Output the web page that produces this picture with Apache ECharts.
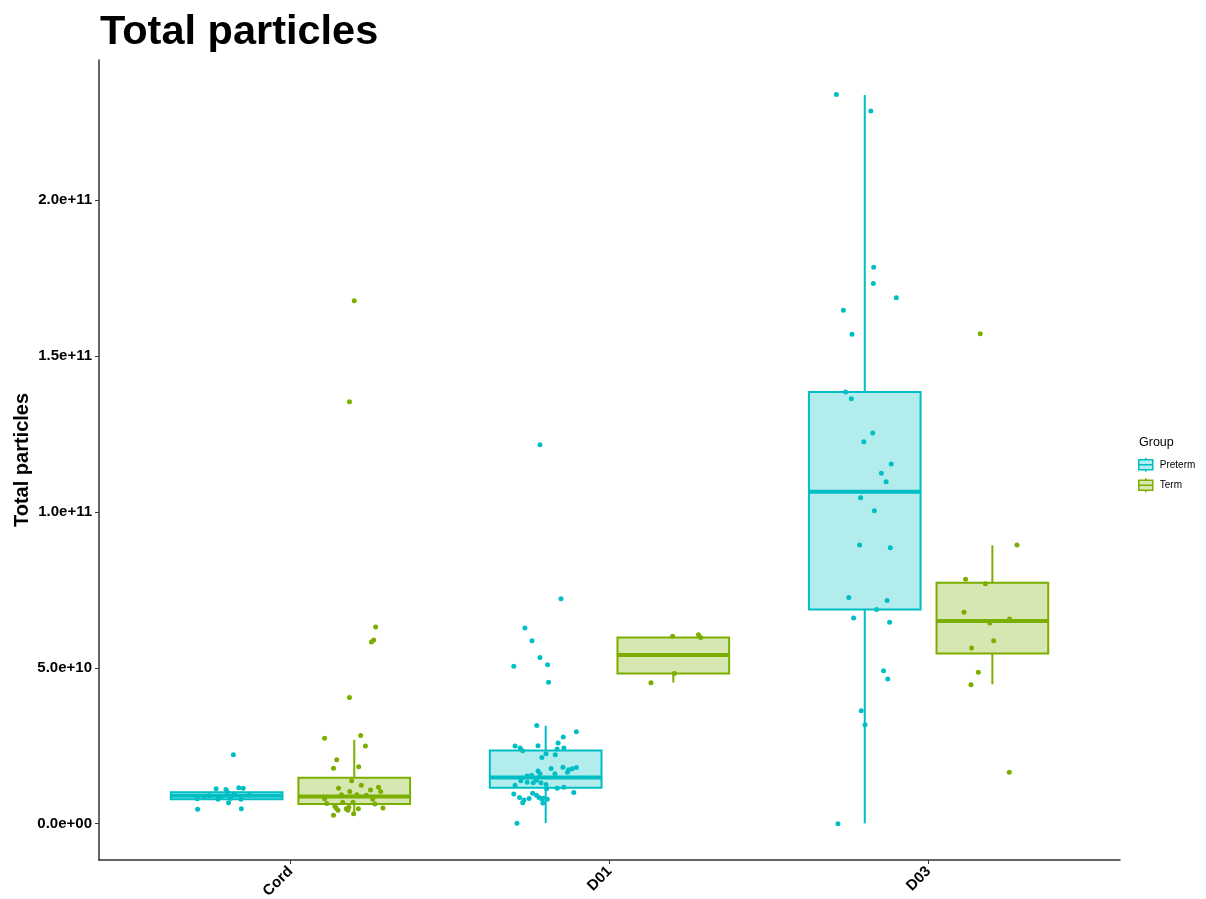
<!DOCTYPE html>
<html>
<head>
<meta charset="utf-8">
<script src="https://cdn.jsdelivr.net/npm/echarts@6/dist/echarts.min.js"></script>
<style>html,body{margin:0;padding:0;background:#fff}#c{width:1206px;height:899px}</style>
</head>
<body>
<div id="c"></div>
<script>
// ---- data (values in units of 1e9 particles) ----
const UNIT = 1e9;
const categories = ['Cord', 'D01', 'D03'];
const groups = ['Preterm', 'Term'];
const yTicks = [0, 5e10, 1e11, 1.5e11, 2e11];

// box stats per category: [min, q1, median, q3, max]
const pretermStats = [
  [7.6, 7.8, 9.0, 10.1, 10.3],
  [0.2, 11.5, 14.8, 23.5, 31.4],
  [0.1, 68.7, 106.5, 138.5, 233.8]
];
const termStats = [
  [2.8, 6.3, 8.7, 14.7, 26.9],
  [45.3, 48.2, 54.1, 59.7, 60.3],
  [44.7, 54.6, 65.0, 77.3, 89.3]
];

// jittered observations: [x position in category units, value]
const pretermPoints = [
  [0.821,22.1],[0.709,4.6],[0.846,4.8],[0.767,11.2],[0.838,11.5],[0.852,11.4],[0.798,11.0],
  [0.806,6.7],[0.773,7.8],[0.708,8.0],[0.845,7.8],[0.824,9.5],[0.783,8.8],[0.871,9.2],
  [0.746,9.0],[0.730,8.6],[0.802,10.2],[0.812,8.2],
  [1.848,72.2],[1.735,62.8],[1.757,58.7],[1.700,50.5],[1.782,53.3],[1.806,51.0],[1.809,45.4],
  [1.782,121.6],[1.772,31.5],[1.896,29.5],[1.855,27.8],[1.839,25.9],[1.704,24.9],[1.720,24.3],
  [1.776,25.0],[1.728,23.4],[1.836,24.0],[1.857,24.3],[1.801,22.4],[1.788,21.2],[1.830,22.1],
  [1.854,18.1],[1.896,18.0],[1.883,17.6],[1.872,17.3],[1.868,16.5],[1.817,17.7],[1.776,16.9],
  [1.782,16.0],[1.829,16.0],[1.756,15.5],[1.742,15.3],[1.724,14.6],[1.722,13.8],[1.742,13.3],
  [1.761,13.1],[1.771,13.9],[1.785,13.1],[1.801,12.6],[1.704,12.3],[1.836,11.4],[1.857,11.7],
  [1.803,11.2],[1.888,10.0],[1.700,9.5],[1.718,8.4],[1.732,7.6],[1.728,6.7],[1.748,8.1],
  [1.759,9.8],[1.771,9.1],[1.779,8.4],[1.787,8.0],[1.794,8.2],[1.805,7.8],[1.791,6.6],[1.710,0.1],
  [2.711,233.9],[2.819,228.6],[2.828,178.5],[2.827,173.3],[2.899,168.7],[2.733,164.7],[2.760,157.0],
  [2.740,138.5],[2.758,136.3],[2.825,125.3],[2.797,122.5],[2.883,115.4],[2.852,112.4],[2.867,109.7],
  [2.787,104.6],[2.830,100.4],[2.784,89.4],[2.880,88.5],[2.750,72.6],[2.870,71.6],[2.837,68.7],
  [2.765,66.0],[2.878,64.6],[2.859,49.1],[2.872,46.4],[2.789,36.2],[2.801,31.7],[2.716,0.0]
];
const termPoints = [
  [1.200,167.8],[1.185,135.4],[1.267,63.1],[1.261,58.9],[1.254,58.3],[1.185,40.5],[1.220,28.3],
  [1.107,27.4],[1.235,24.9],[1.145,20.5],[1.135,17.8],[1.214,18.3],[1.192,13.8],[1.151,11.4],
  [1.222,12.3],[1.276,11.7],[1.283,10.3],[1.251,10.8],[1.186,10.3],[1.160,9.3],[1.208,9.3],
  [1.107,8.0],[1.258,7.8],[1.114,6.5],[1.139,5.7],[1.143,5.0],[1.175,4.8],[1.183,5.3],
  [1.213,4.8],[1.290,5.0],[1.135,2.7],[1.198,3.2],[1.265,6.3],[1.164,6.9],[1.196,6.9],
  [1.238,9.1],[1.149,4.3],[1.180,4.3],
  [2.198,60.1],[2.279,60.6],[2.286,59.7],[2.130,45.2],[2.203,48.2],
  [3.162,157.2],[3.277,89.4],[3.116,78.4],[3.178,77.0],[3.111,67.8],[3.254,65.7],[3.192,64.4],
  [3.204,58.7],[3.135,56.4],[3.156,48.6],[3.133,44.6],[3.253,16.5]
];

// ---- styling ----
const FONT = 'Liberation Sans, Arial, Helvetica, sans-serif';
const colors = { Preterm: '#00BFC4', Term: '#7CAE00' };
const fills = { Preterm: 'rgba(0,191,196,0.3)', Term: 'rgba(124,174,0,0.3)' };
const DODGE = 0.2, BOX_W = 0.35;

function boxData(stats) {
  return stats.map((s, i) => [i + 1].concat(s.map(v => v * UNIT)));
}
function makeRender(offset, stroke, fill) {
  return function (params, api) {
    const xc = api.value(0) + offset;
    const lo = api.coord([xc - BOX_W / 2, 0])[0];
    const hi = api.coord([xc + BOX_W / 2, 0])[0];
    const cx = api.coord([xc, 0])[0];
    const y = [1, 2, 3, 4, 5].map(k => api.coord([xc, api.value(k)])[1]);
    const ls = { stroke: stroke, lineWidth: 2 };
    return {
      type: 'group',
      children: [
        { type: 'line', shape: { x1: cx, y1: y[4], x2: cx, y2: y[3] }, style: ls },
        { type: 'line', shape: { x1: cx, y1: y[1], x2: cx, y2: y[0] }, style: ls },
        { type: 'rect', shape: { x: lo, y: y[3], width: hi - lo, height: y[1] - y[3] },
          style: { fill: fill, stroke: stroke, lineWidth: 2 } },
        { type: 'line', shape: { x1: lo, y1: y[2], x2: hi, y2: y[2] }, style: { stroke: stroke, lineWidth: 4 } }
      ]
    };
  };
}
function sci(v) {
  if (v === 0) return '0.0e+00';
  const e = Math.floor(Math.log10(Math.abs(v)) + 1e-9);
  const m = v / Math.pow(10, e);
  return m.toFixed(1) + 'e' + (e < 0 ? '-' : '+') + String(Math.abs(e)).padStart(2, '0');
}

const legendIcon = 'path://M7,0L7,2M0,2L14,2L14,12L0,12ZM0,7L14,7M7,12L7,14';

const chart = echarts.init(document.getElementById('c'), null, { renderer: 'canvas' });
chart.setOption({
  animation: false,
  backgroundColor: '#fff',
  textStyle: { fontFamily: FONT },
  title: [
    { text: 'Total particles', left: 95, top: 7,
      textStyle: { fontSize: 41.5, fontWeight: 'bold', color: '#000', fontFamily: FONT } },
    { text: 'Group', left: 1134, top: 431,
      textStyle: { fontSize: 12.5, fontWeight: 'normal', color: '#000', fontFamily: FONT } }
  ],
  legend: {
    orient: 'vertical', left: 1133, top: 452,
    itemWidth: 14, itemHeight: 14, itemGap: 5,
    textStyle: { fontSize: 10, color: '#000', fontFamily: FONT, padding: [0, 0, 0, 2] },
    selectedMode: false,
    data: groups.map(g => ({ name: g, icon: legendIcon,
      itemStyle: { color: fills[g], borderColor: colors[g], borderWidth: 1.5 } }))
  },
  grid: { left: 99, right: 86, top: 60, bottom: 39, containLabel: false, outerBoundsMode: 'none' },
  xAxis: {
    type: 'value', min: 0.4, max: 3.6,
    axisLine: { show: true, onZero: false, lineStyle: { color: '#333', width: 1.5 } },
    axisTick: { show: true, customValues: [1, 2, 3], length: 4, lineStyle: { color: '#333' } },
    axisLabel: { customValues: [1, 2, 3], rotate: 45, margin: 9,
      formatter: v => categories[Math.round(v) - 1] || '',
      fontSize: 15, fontWeight: 'bold', color: '#000', fontFamily: FONT },
    splitLine: { show: false }
  },
  yAxis: {
    type: 'value', min: -1.165e10, max: 2.45e11,
    name: 'Total particles', nameLocation: 'middle', nameGap: 67, nameMoveOverlap: false,
    nameTextStyle: { fontSize: 20, fontWeight: 'bold', color: '#000', fontFamily: FONT },
    axisLine: { show: true, onZero: false, lineStyle: { color: '#333', width: 1.5 } },
    axisTick: { show: true, customValues: yTicks, length: 4, lineStyle: { color: '#333' } },
    axisLabel: { customValues: yTicks, formatter: sci, margin: 7,
      fontSize: 15, fontWeight: 'bold', color: '#000', fontFamily: FONT },
    splitLine: { show: false }
  },
  series: [
    { name: 'Preterm', type: 'custom', data: boxData(pretermStats),
      encode: { x: 0, y: [1, 2, 3, 4, 5] }, itemStyle: { color: fills.Preterm },
      renderItem: makeRender(-DODGE, colors.Preterm, fills.Preterm), z: 2 },
    { name: 'Term', type: 'custom', data: boxData(termStats),
      encode: { x: 0, y: [1, 2, 3, 4, 5] }, itemStyle: { color: fills.Term },
      renderItem: makeRender(DODGE, colors.Term, fills.Term), z: 2 },
    { name: 'Preterm', type: 'scatter', symbolSize: 5,
      data: pretermPoints.map(p => [p[0], p[1] * UNIT]),
      itemStyle: { color: colors.Preterm, opacity: 1 }, z: 3 },
    { name: 'Term', type: 'scatter', symbolSize: 5,
      data: termPoints.map(p => [p[0], p[1] * UNIT]),
      itemStyle: { color: colors.Term, opacity: 1 }, z: 3 }
  ]
});
</script>
</body>
</html>
